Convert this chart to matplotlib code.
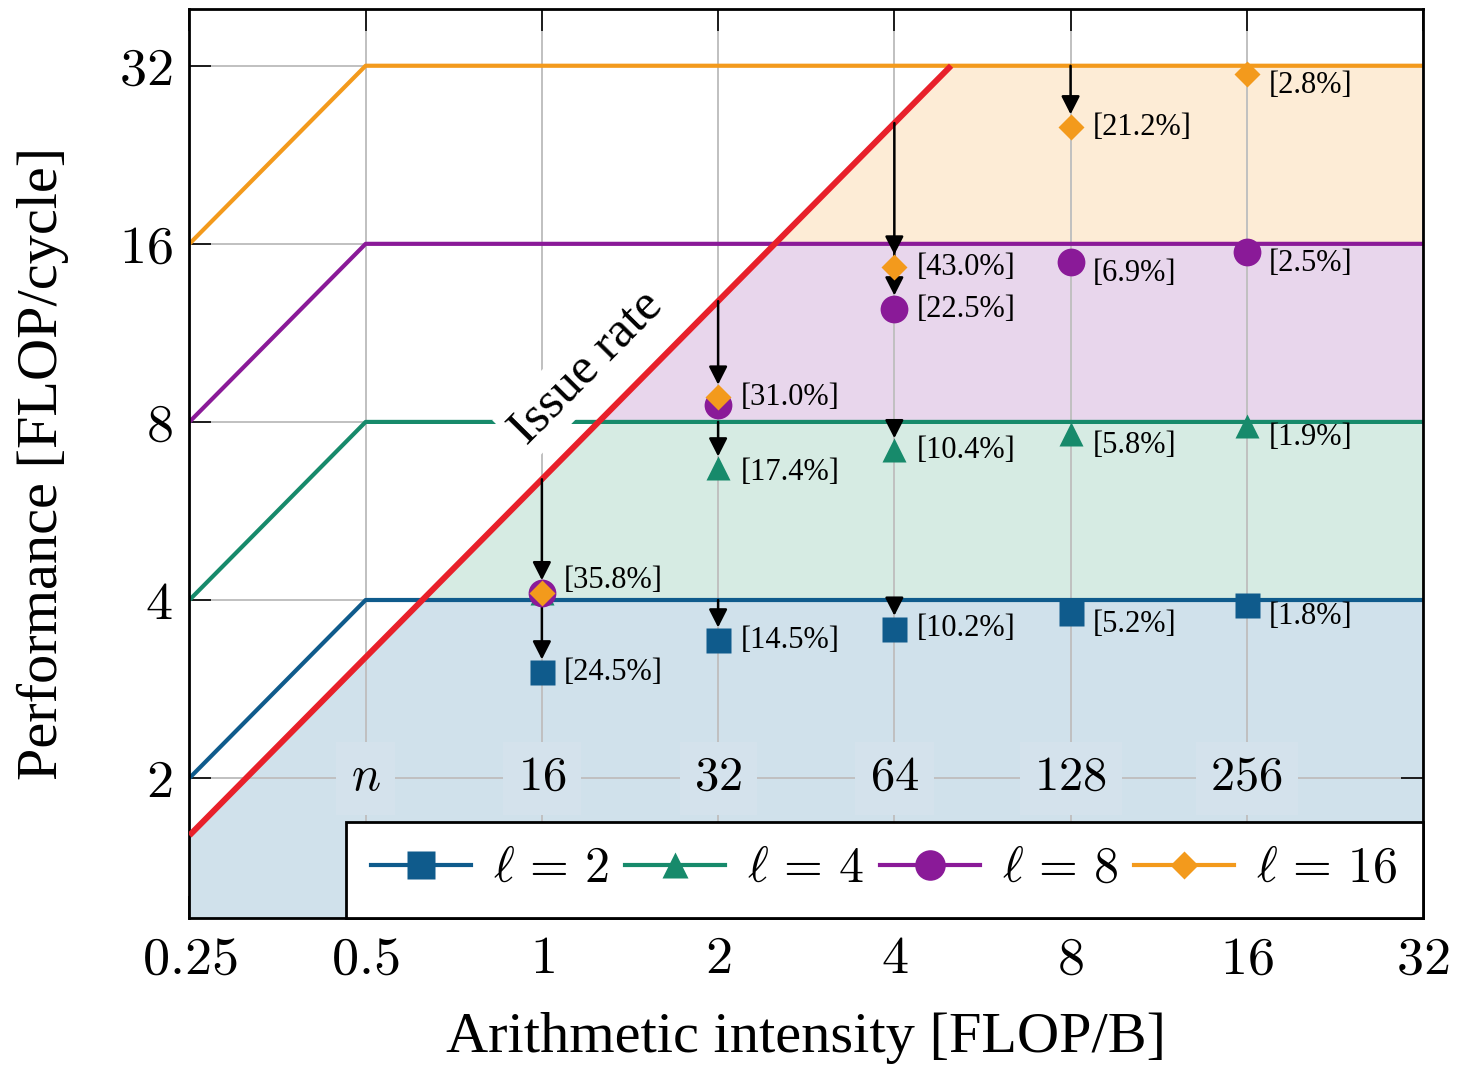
import numpy as np
import matplotlib
matplotlib.use('Agg')
import matplotlib.pyplot as plt
from matplotlib.lines import Line2D

plt.rcParams['font.family'] = ['Liberation Serif', 'DejaVu Serif']
plt.rcParams['mathtext.fontset'] = 'cm'

# axes ticks
x_ticks = [0.25, 0.5, 1, 2, 4, 8, 16, 32]
y_ticks = [2, 4, 8, 16, 32]

# roofline model
ells = [2, 4, 8, 16]
peaks = [4, 8, 16, 32]          # FLOP/cycle
bandwidth = [8, 16, 32, 64]     # slope of the memory roof
issue_rate = 6.4                # issue-rate roof slope

# measured points
x_meas = [1, 2, 4, 8, 16]
n_pos = [0.5, 1, 2, 4, 8, 16]
n_labels = ['$n$', '$16$', '$32$', '$64$', '$128$', '$256$']

perf = [
    [3.02, 3.42, 3.58, 3.80, 3.92],   # l = 2
    [4.11, 6.68, 7.17, 7.62, 7.87],   # l = 4
    [4.11, 8.55, 12.4, 14.9, 15.5],   # l = 8
    [4.11, 8.80, 14.6, 25.2, 31.0],   # l = 16
]
pct = [
    ['24.5', '14.5', '10.2', '5.2', '1.8'],
    ['', '17.4', '10.4', '5.8', '1.9'],
    ['', '', '22.5', '6.9', '2.5'],
    ['35.8', '31.0', '43.0', '21.2', '2.8'],
]

colors = ['#0f5b8c', '#178a6b', '#8a1a98', '#f39a1c']
fills = ['#d0e1eb', '#d6ebe3', '#e8d6ec', '#fdecd6']
markers = ['s', '^', 'o', 'D']
msizes = [18, 17, 20, 13]
mtops = [9.2, 8.5, 10.0, 9.2]   # marker top above centre, points
red = '#e8202a'

fig = plt.figure(figsize=(14.57, 10.66), dpi=100)
ax = fig.add_axes([0.130, 0.1388, 0.8467, 0.8527])
ax.set_xscale('log', base=2)
ax.set_yscale('log', base=2)
ax.set_xlim(0.25, 32)
ax.set_ylim(1.16, 39.9)

# shaded regions under the roofs
xs = np.geomspace(x_ticks[0], x_ticks[-1], 800)
for i in range(len(peaks)):
    lo = 1.0 if i == 0 else peaks[i - 1]
    up = np.minimum(peaks[i], issue_rate * xs)
    ax.fill_between(xs, lo, up, where=up > lo, interpolate=True,
                    color=fills[i], lw=0, zorder=0)

# memory / compute roofs
for i in range(len(peaks)):
    knee = peaks[i] / bandwidth[i]
    ax.plot([x_ticks[0], knee, x_ticks[-1]],
            [bandwidth[i] * x_ticks[0], peaks[i], peaks[i]],
            color=colors[i], lw=3, zorder=2, solid_capstyle='butt')

# issue rate
ax.plot([x_ticks[0], peaks[-1] / issue_rate],
        [issue_rate * x_ticks[0], peaks[-1]], color=red, lw=4.3, zorder=4,
        solid_capstyle='butt')
ax.text(1.19, 9.9, 'Issue rate', rotation=45.3, rotation_mode='anchor',
        ha='center', va='center', fontsize=37, zorder=3,
        bbox=dict(boxstyle='square,pad=0.12', fc='white', ec='none'))

# arrows from roof to measured value
done = set()
for i in reversed(range(len(perf))):
    for x, v in zip(x_meas, perf[i]):
        roof = min(peaks[i], issue_rate * x)
        if (x, roof) in done or roof / v < 1.08:
            continue
        done.add((x, roof))
        ax.annotate('', xy=(x, v), xytext=(x, roof), zorder=5,
                    arrowprops=dict(arrowstyle='-|>,head_length=0.55,head_width=0.28',
                                    color='k', lw=1.8, shrinkA=0,
                                    shrinkB=mtops[i], mutation_scale=20))

# markers and percentage labels
nudge = {(3, 1): 9, (1, 2): -3}
for i in range(len(perf)):
    ax.plot(x_meas, perf[i], ls='none', marker=markers[i], ms=msizes[i],
            color=colors[i], mec='none', zorder=6)
    for j, (x, v) in enumerate(zip(x_meas, perf[i])):
        if not pct[i][j]:
            continue
        dy = -8 if float(pct[i][j]) < 10 else 0
        dy = nudge.get((i, x), dy)
        ax.annotate('[' + pct[i][j] + '%]', xy=(x, v), xytext=(16, dy),
                    textcoords='offset points', ha='left', va='center',
                    fontsize=22, zorder=7)

# problem sizes row
for x, lab in zip(n_pos, n_labels):
    ax.text(x, 2, lab, ha='center', va='center', fontsize=35, zorder=3,
            bbox=dict(boxstyle='square,pad=0.3', fc='#d4e2ec', ec='none'))

ax.set_xticks(x_ticks)
ax.set_xticklabels(['$%g$' % t for t in x_ticks])
ax.set_yticks(y_ticks)
ax.set_yticklabels(['$%g$' % t for t in y_ticks])
ax.minorticks_off()
ax.tick_params(which='major', direction='in', length=16, width=1.2,
               top=True, right=True, labelsize=39, pad=12)
ax.grid(True, color='#c0c0c0', lw=1.4)
for s in ax.spines.values():
    s.set_linewidth(2)

ax.set_xlabel('Arithmetic intensity [FLOP/B]', fontsize=42)
ax.set_ylabel('Performance [FLOP/cycle]', fontsize=42)
ax.xaxis.set_label_coords(0.5, -0.132)
ax.xaxis.label.set_va('center')
ax.yaxis.set_label_coords(-0.119, 0.5)
ax.yaxis.label.set_va('center')

handles = [Line2D([], [], color=colors[i], lw=3, marker=markers[i],
                  ms=msizes[i] * 1.1, mec='none') for i in range(len(ells))]
leg = ax.legend(handles, [r'$\ell\,=\,%d$' % l for l in ells], loc='lower right',
                bbox_to_anchor=(1, 0), borderaxespad=0, ncol=4, fontsize=36,
                handlelength=2.0, handletextpad=0.45, columnspacing=0.3,
                borderpad=0.5, fancybox=False, framealpha=1,
                edgecolor='black')
leg.get_frame().set_linewidth(2)
leg.set_zorder(10)

fig.savefig('out.png', dpi=100)
